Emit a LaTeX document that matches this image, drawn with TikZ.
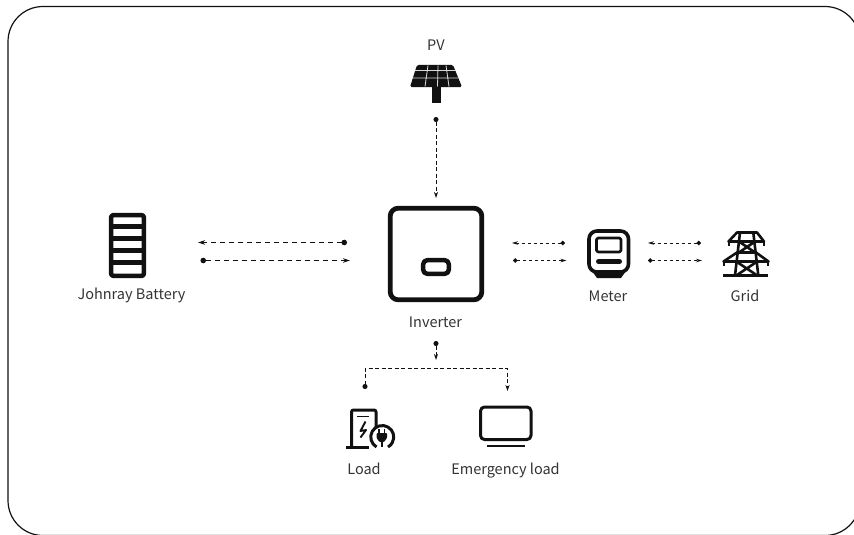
\documentclass[tikz,border=0pt]{standalone}
\usepackage{fontspec}
\setmainfont{Noto Sans CJK SC}
\usetikzlibrary{arrows.meta}
\definecolor{ink}{HTML}{111111}
\definecolor{txt}{HTML}{333333}
\tikzset{
  x=1pt,y=-1pt,
  lbl/.style={font=\fontsize{14.5}{16}\selectfont,text=txt,inner sep=0pt,anchor=center,text height=10pt,text depth=3pt},
  frameline/.style={draw=ink,line width=1.2pt},
  icon/.style={draw=ink,line width=3.2pt,line join=round},
  iconthin/.style={draw=ink,line width=2.4pt,line join=round},
  longlink/.style={draw=ink,line width=1pt,dash pattern=on 5pt off 4pt,{Circle[length=5.5pt,width=5.5pt,sep=0pt]}-{Stealth[length=7pt,width=4.5pt]}},
  shortlink/.style={draw=ink,line width=0.8pt,dash pattern=on 3pt off 3pt,{Circle[length=4.5pt,width=4.5pt]}-{Stealth[length=6pt,width=3.5pt]}},
  vlink/.style={draw=ink,line width=1pt,dash pattern=on 4pt off 2.5pt,{Circle[length=5pt,width=5pt]}-{Stealth[length=6pt,width=4pt]}},
}
\begin{document}
\begin{tikzpicture}
\useasboundingbox (0,0) rectangle (854,535);
\begin{scope}
\clip (0,0) rectangle (854,535);
\draw[frameline] (8,6.5) [rounded corners=35pt] -- (860,6.5) -- (860,535.5) -- (8,535.5) -- cycle;
\end{scope}
% labels
\node[lbl] (pv) at (436,47) {PV};
\node[lbl] (bat) at (131.5,296) {Johnray Battery};
\node[lbl] (inv) at (435.5,323.5) {Inverter};
\node[lbl] (met) at (608,298) {Meter};
\node[lbl] (gri) at (745,298) {Grid};
\node[lbl] (loa) at (364,471) {Load};
\node[lbl] (eme) at (505.5,471) {Emergency load};
% connector ends
\coordinate (pvS) at (436,117);
\coordinate (pvE) at (436,198);
\coordinate (b1S) at (347,242.5);
\coordinate (b1E) at (198,242.5);
\coordinate (b2S) at (200.5,260.5);
\coordinate (b2E) at (350,260.5);
\coordinate (m1S) at (565,243);
\coordinate (m1E) at (512,243);
\coordinate (m2S) at (513,260.5);
\coordinate (m2E) at (566.5,260.5);
\coordinate (g1S) at (701,243);
\coordinate (g1E) at (648,243);
\coordinate (g2S) at (648,260.5);
\coordinate (g2E) at (702,260.5);
\coordinate (iS) at (436,341);
\coordinate (iE) at (436,360);
\coordinate (lS) at (365,389);
\coordinate (eE) at (507.5,391);
\draw[vlink] (pvS) -- (pvE);
\draw[longlink] (b1S) -- (b1E);
\draw[longlink] (b2S) -- (b2E);
\draw[shortlink] (m1S) -- (m1E);
\draw[shortlink] (m2S) -- (m2E);
\draw[shortlink] (g1S) -- (g1E);
\draw[shortlink] (g2S) -- (g2E);
\draw[vlink] (iS) -- (iE);
\draw[vlink] (lS) |- (435,368.5) -| (eE);
% PV panel
\fill[ink,rounded corners=1.5pt] (417,65) -- (453,65) -- (462,87) -- (410,87) -- cycle;
\fill[ink] (432,87) rectangle (440.5,103);
\draw[white!85!black,line width=0.8pt] (415,70.5) -- (456,70.5) (413,78) -- (458,78)
  (428,65.5) -- (425,86.5) (438,65.5) -- (437.5,86.5) (446,65.5) -- (449,86.5);
% battery
\draw[icon,line width=4.5pt,rounded corners=1.5pt] (111.2,215.2) rectangle (143.8,275.8);
\draw[ink,line width=4.6pt] (111,226.7) -- (144,226.7) (111,238.7) -- (144,238.7) (111,250.7) -- (144,250.7) (111,262.7) -- (144,262.7);
% inverter
\draw[icon,line width=4.8pt,rounded corners=8pt] (390.2,208.2) rectangle (481.8,299.8);
\draw[icon,line width=4.5pt,rounded corners=4pt] (423.2,260.2) rectangle (448.8,273.8);
% meter
\draw[icon,line width=3.6pt,rounded corners=8pt] (589,231) rectangle (628.5,272);
\draw[iconthin,line width=2.6pt,rounded corners=1.5pt] (596.5,238) rectangle (621,252);
\draw[ink,line width=5pt,line cap=round] (598.5,261.5) -- (619.5,261.5);
\fill[ink] (592,271) -- (626,271) -- (621,278) -- (597,278) -- cycle;
% grid tower
\begin{scope}[iconthin,line width=2.6pt]
\draw (728.5,241.5) -- (737,232.5) -- (757,232.5) -- (764,241.5) -- cycle;
\draw (723.5,261.5) -- (737,252.5) -- (756,252.5) -- (768.5,261.5) -- cycle;
\draw (740,232.5) -- (735,275.5) (753.3,232.5) -- (758.3,275.5);
\draw (739,241.5) -- (755,252.5) (755,241.5) -- (739,252.5);
\draw (737,262) -- (756.5,275) (756.5,262) -- (737,275);
\draw (723,275.5) -- (768,275.5);
\draw (729,241.5) -- (729,245.5) (764,241.5) -- (764,245.5) (724,261.5) -- (724,265.5) (768,261.5) -- (768,265.5);
\end{scope}
% load
\begin{scope}[iconthin,line width=3pt]
\draw[rounded corners=2pt] (351.5,447) -- (351.5,410) -- (376,410) -- (376,428);
\draw (346,447) -- (369,447);
\draw[line width=1.9pt] (357,416.5) -- (369,416.5);
\draw[line width=1.9pt] (365.5,421.5) -- (360.5,431) -- (366,430) -- (360.5,437.5);
\draw (376.5,447) arc[start angle=120,end angle=420,radius=11.5];
\end{scope}
\fill[ink,rounded corners=1pt] (376.5,433) -- (387,433) -- (387,438) -- (384,442) -- (379.5,442) -- (376.5,438) -- cycle;
\draw[ink,line width=1.8pt] (379,433) -- (379,429) (384.5,433) -- (384.5,429) (381.7,442) -- (381.7,447);
% emergency load TV
\draw[iconthin,line width=3pt,rounded corners=4pt] (480.5,407) rectangle (531,439.5);
\draw[iconthin,line width=2.6pt] (487,446) -- (525,446);
\end{tikzpicture}
\end{document}
